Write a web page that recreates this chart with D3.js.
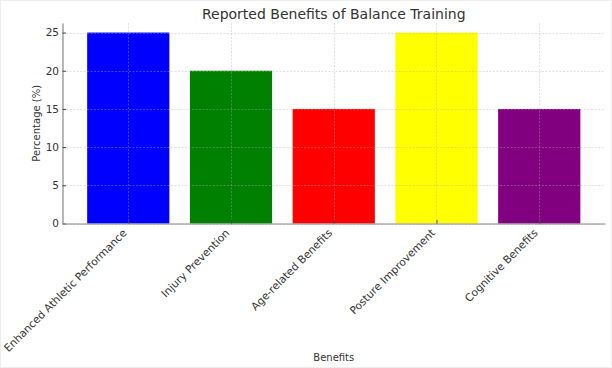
<!DOCTYPE html>
<html>
<head>
<meta charset="utf-8">
<script src="https://cdn.jsdelivr.net/npm/d3@7"></script>
<style>
  html, body { margin: 0; padding: 0; background: #fff; }
  svg { display: block; font-family: "DejaVu Sans", sans-serif; }
</style>
</head>
<body>
<svg id="chart" width="612" height="368"></svg>
<script>
const categories = ["Enhanced Athletic Performance", "Injury Prevention", "Age-related Benefits", "Posture Improvement", "Cognitive Benefits"];
const values = [25, 20, 15, 25, 15];
const colors = ["blue", "green", "red", "yellow", "purple"];
const yTicks = [0, 5, 10, 15, 20, 25];
const titleText = "Reported Benefits of Balance Training";
const xLabel = "Benefits";
const yLabel = "Percentage (%)";

const W = 612, H = 368;
const m = { left: 62.5, right: 605, top: 23, bottom: 223.5 };
const svg = d3.select("#chart");

// frame
svg.append("rect").attr("x", 0.5).attr("y", 0.5).attr("width", W - 1).attr("height", H - 1)
  .attr("fill", "#fff").attr("stroke", "#eeeeee");

const n = categories.length;
const x = d3.scaleLinear().domain([-0.4 - 0.05 * (n - 0.2), (n - 1) + 0.4 + 0.05 * (n - 0.2)]).range([m.left, m.right]);
const yMax = d3.max(values) * 1.05;
const y = d3.scaleLinear().domain([0, yMax]).range([m.bottom, m.top]);
const barW = 0.8;

// bars
svg.append("g").selectAll("rect").data(values).join("rect")
  .attr("x", (d, i) => x(i - barW / 2))
  .attr("width", (d, i) => x(i + barW / 2) - x(i - barW / 2))
  .attr("y", d => y(d))
  .attr("height", d => y(0) - y(d))
  .attr("fill", (d, i) => colors[i]);

// grid (on top)
const grid = svg.append("g").attr("stroke", "#b0b0b0").attr("stroke-opacity", 0.55)
  .attr("stroke-width", 0.7).attr("stroke-dasharray", "2,1.5");
grid.selectAll("line.h").data(yTicks).join("line").attr("class", "h")
  .attr("x1", m.left).attr("x2", m.right)
  .attr("y1", d => Math.round(y(d)) + 0.5).attr("y2", d => Math.round(y(d)) + 0.5);
grid.selectAll("line.v").data(categories).join("line").attr("class", "v")
  .attr("y1", m.top).attr("y2", m.bottom)
  .attr("x1", (d, i) => Math.round(x(i)) + 0.5).attr("x2", (d, i) => Math.round(x(i)) + 0.5);

// y axis
const yAxis = d3.axisLeft(y).tickValues(yTicks).tickSizeInner(-3.5).tickSizeOuter(0).tickPadding(3.5);
const gy = svg.append("g").attr("transform", `translate(${m.left},0)`).call(yAxis);
gy.select(".domain").attr("stroke", "#888").attr("stroke-width", 1.2);
gy.selectAll(".tick line").attr("stroke", "#444");
gy.selectAll(".tick text").attr("font-size", 10.5).attr("fill", "#333").attr("font-family", "DejaVu Sans");

// x axis
const xAxis = d3.axisBottom(x).tickValues(d3.range(n)).tickFormat(i => categories[i])
  .tickSizeInner(-3.5).tickSizeOuter(0).tickPadding(0);
const gx = svg.append("g").attr("transform", `translate(0,${m.bottom})`).call(xAxis);
gx.select(".domain").attr("stroke", "#888").attr("stroke-width", 1.2);
gx.selectAll(".tick line").attr("stroke", "#444");
gx.selectAll(".tick text").attr("font-size", 10.7).attr("fill", "#333").attr("font-family", "DejaVu Sans")
  .attr("text-anchor", "end").attr("y", 0).attr("dy", "0.35em")
  .attr("transform", "translate(-4,7.5) rotate(-45)");

// title & labels
svg.append("text").attr("x", (m.left + m.right) / 2).attr("y", 19).attr("text-anchor", "middle")
  .attr("font-size", 14).attr("fill", "#333").text(titleText);
svg.append("text").attr("x", (m.left + m.right) / 2).attr("y", 361).attr("text-anchor", "middle")
  .attr("font-size", 10).attr("fill", "#333").text(xLabel);
svg.append("text").attr("transform", `translate(40,${(m.top + m.bottom) / 2}) rotate(-90)`)
  .attr("text-anchor", "middle").attr("font-size", 10).attr("fill", "#333").text(yLabel);
</script>
</body>
</html>
